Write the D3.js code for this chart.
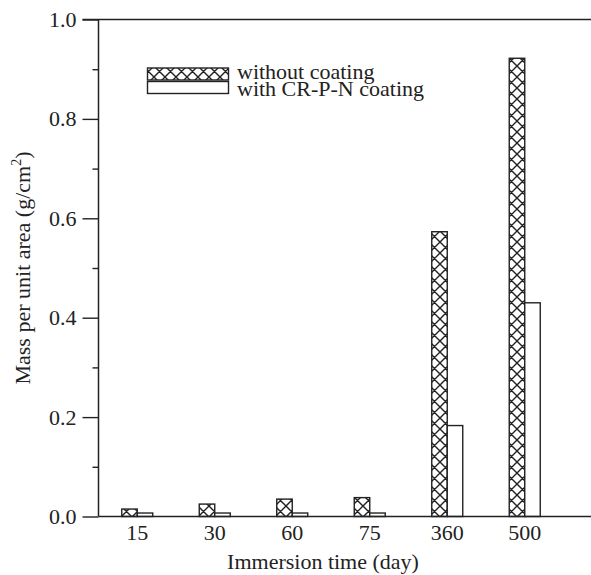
<!DOCTYPE html>
<html>
<head>
<meta charset="utf-8">
<script src="https://cdn.jsdelivr.net/npm/d3@7"></script>
<style>
  html, body { margin: 0; padding: 0; background: #fff; }
  svg { display: block; }
  text { font-family: "Liberation Serif", "Times New Roman", serif; fill: #222; }
</style>
</head>
<body>
<script>
// Immersion times (days) on the x axis
const categories = ["15", "30", "60", "75", "360", "500"];
// Mass per unit area, g/cm²
const withoutCoating = [0.015, 0.025, 0.035, 0.038, 0.573, 0.922];
const withCoating = [0.007, 0.007, 0.007, 0.007, 0.183, 0.430];
const seriesNames = ["without coating", "with CR-P-N coating"];
const yMajorTicks = [0, 0.2, 0.4, 0.6, 0.8, 1.0];
const yMinorTicks = [0.1, 0.3, 0.5, 0.7, 0.9];

const W = 591, H = 575;
const plotLeft = 98.5, plotRight = 591, plotTop = 19.5, plotBottom = 516.5;
const bandStart = 98.5, bandEnd = 563.5;
const fontPx = "22px";

const svg = d3.select("body").append("svg")
  .attr("width", W).attr("height", H);

// cross-hatch fill
const defs = svg.append("defs");
const pat = defs.append("pattern")
  .attr("id", "xhatch")
  .attr("patternUnits", "userSpaceOnUse")
  .attr("width", 11).attr("height", 11);
pat.append("rect").attr("width", 11).attr("height", 11).attr("fill", "#fff");
pat.append("path")
  .attr("d", "M0,0 L11,11 M11,0 L0,11 M-1,1 L1,-1 M10,12 L12,10 M-1,10 L1,12 M10,-1 L12,1")
  .attr("stroke", "#222").attr("stroke-width", 1.4).attr("fill", "none");

const x = d3.scaleBand().domain(categories).range([bandStart, bandEnd]).paddingInner(0).paddingOuter(0);
const y = d3.scaleLinear().domain([0, 1]).range([plotBottom, plotTop]);
const barW = 15.5;

// bars
const g = svg.append("g");
categories.forEach((c, i) => {
  const cx = x(c) + x.bandwidth() / 2;
  g.append("rect")
    .attr("x", cx - barW).attr("y", y(withoutCoating[i]))
    .attr("width", barW).attr("height", y(0) - y(withoutCoating[i]))
    .attr("fill", "url(#xhatch)").attr("stroke", "#222").attr("stroke-width", 1.4);
  g.append("rect")
    .attr("x", cx).attr("y", y(withCoating[i]))
    .attr("width", barW).attr("height", y(0) - y(withCoating[i]))
    .attr("fill", "#fff").attr("stroke", "#222").attr("stroke-width", 1.4);
});

// y axis with outward ticks
const yAxis = d3.axisLeft(y).tickValues(yMajorTicks).tickSize(16).tickPadding(6)
  .tickFormat(d3.format(".1f"));
const ya = svg.append("g").attr("transform", `translate(${plotLeft},0)`).call(yAxis);
ya.select(".domain").remove();
ya.selectAll("line").attr("stroke", "#222").attr("stroke-width", 1.4);
ya.selectAll("text").style("font-size", fontPx).style("font-family", "Liberation Serif").attr("fill", "#222");
const yMinor = d3.axisLeft(y).tickValues(yMinorTicks).tickSize(6).tickFormat("");
const ym = svg.append("g").attr("transform", `translate(${plotLeft},0)`).call(yMinor);
ym.select(".domain").remove();
ym.selectAll("line").attr("stroke", "#222").attr("stroke-width", 1.4);

svg.append("line").attr("x1", plotLeft).attr("x2", plotLeft).attr("y1", plotTop).attr("y2", plotBottom)
  .attr("stroke", "#222").attr("stroke-width", 1.5);
svg.append("line").attr("x1", plotLeft - 16).attr("x2", plotRight).attr("y1", plotTop).attr("y2", plotTop)
  .attr("stroke", "#222").attr("stroke-width", 1.5);
svg.append("line").attr("x1", plotLeft).attr("x2", plotRight).attr("y1", plotBottom).attr("y2", plotBottom)
  .attr("stroke", "#222").attr("stroke-width", 1.5);

// x axis labels, no tick marks
const xAxis = d3.axisBottom(x).tickSize(0).tickPadding(8);
const xa = svg.append("g").attr("transform", `translate(0,${plotBottom})`).call(xAxis);
xa.select(".domain").remove();
xa.selectAll("text").style("font-size", fontPx).style("font-family", "Liberation Serif").attr("fill", "#222");

// axis titles
svg.append("text")
  .attr("x", 323).attr("y", 569)
  .attr("text-anchor", "middle").style("font-size", fontPx)
  .text("Immersion time (day)");

const yt = svg.append("text")
  .attr("transform", "translate(30,268) rotate(-90)")
  .attr("text-anchor", "middle").style("font-size", fontPx);
yt.append("tspan").text("Mass per unit area (g/cm");
yt.append("tspan").attr("dy", -9).style("font-size", "14px").text("2");
yt.append("tspan").attr("dy", 9).text(")");

// legend
const lg = svg.append("g");
const fills = ["url(#xhatch)", "#fff"];
const boxY = [68, 81.5];
const textY = [79, 96];
seriesNames.forEach((name, i) => {
  lg.append("rect").attr("x", 147.5).attr("y", boxY[i]).attr("width", 81).attr("height", 12)
    .attr("fill", fills[i]).attr("stroke", "#222").attr("stroke-width", 1.4);
  lg.append("text").attr("x", 237).attr("y", textY[i]).style("font-size", fontPx).text(name);
});
</script>
</body>
</html>
